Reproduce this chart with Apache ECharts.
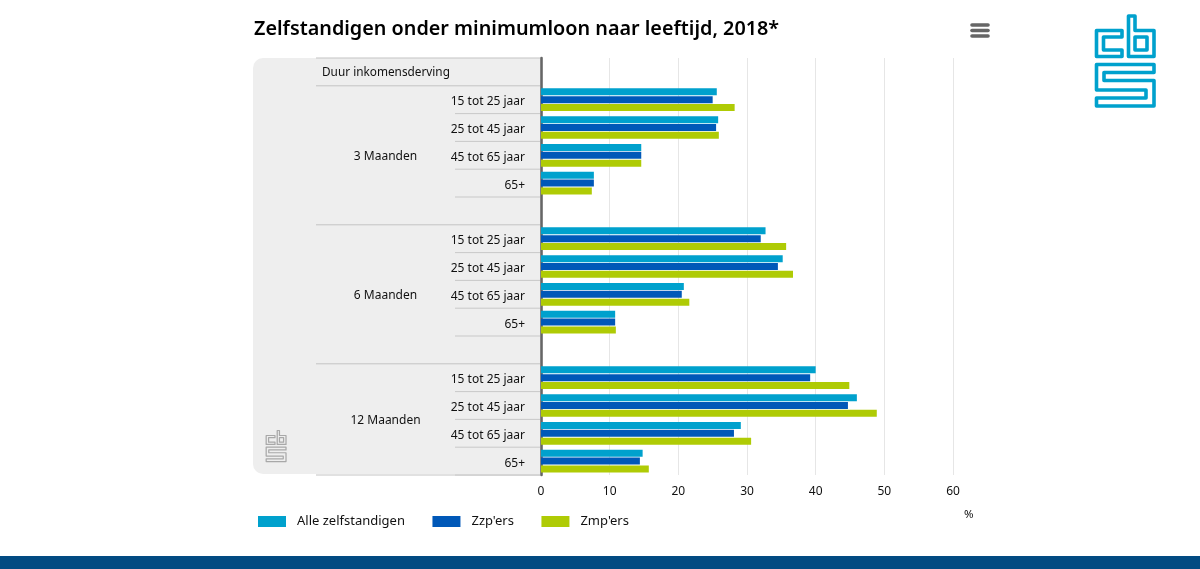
<!DOCTYPE html>
<html>
<head>
<meta charset="utf-8">
<title>Zelfstandigen onder minimumloon</title>
<script src="https://cdn.jsdelivr.net/npm/echarts@6/dist/echarts.min.js"></script>
<style>
html,body{margin:0;padding:0;background:#fff}
#main{width:1200px;height:569px}
</style>
</head>
<body>
<div id="main"></div>
<script>
// data. first row is the header row, blank rows between the groups
const ageLabels = ['', '15 tot 25 jaar', '25 tot 45 jaar', '45 tot 65 jaar', '65+', '',
  '15 tot 25 jaar', '25 tot 45 jaar', '45 tot 65 jaar', '65+', '',
  '15 tot 25 jaar', '25 tot 45 jaar', '45 tot 65 jaar', '65+'];
const alleZelfstandigen = [null, 25.6, 25.8, 14.6, 7.7, null, 32.7, 35.2, 20.8, 10.8, null, 40.0, 46.0, 29.1, 14.8];
const zzpers = [null, 25.0, 25.5, 14.6, 7.7, null, 32.0, 34.5, 20.5, 10.8, null, 39.2, 44.7, 28.1, 14.4];
const zmpers = [null, 28.2, 25.9, 14.6, 7.4, null, 35.7, 36.7, 21.6, 10.9, null, 44.9, 48.9, 30.6, 15.7];
const groupLabels = ['3 Maanden', '6 Maanden', '12 Maanden'];
const groupRows = [[1, 6], [6, 11], [11, 15]]; // from row, to row
const seriesNames = ['Alle zelfstandigen', "Zzp'ers", "Zmp'ers"];
const xTicks = [0, 10, 20, 30, 40, 50, 60];

const font = '"Noto Sans"';
const plotTop = 58, plotBottom = 475, panelRight = 540;
const rowH = (plotBottom - plotTop) / ageLabels.length;
const rowY = i => plotTop + i * rowH;

function line(x1, y1, x2, y2, color, w) {
  return {type: 'line', z: -1, shape: {x1, y1, x2, y2}, style: {stroke: color, lineWidth: w || 1}};
}

// cbs logo as outlines
const logoParts = [
  [[1122,30.5],[1096.5,30.5],[1096.5,56.5],[1122,56.5],[1122,50],[1103.5,50],[1103.5,37],[1122,37]],
  [[1128.5,16],[1135,16],[1135,30.5],[1154,30.5],[1154,56.5],[1128.5,56.5]],
  [[1135,37],[1147,37],[1147,50],[1135,50]],
  [[1096.5,64.5],[1154,64.5],[1154,72.5],[1104,72.5],[1104,80.5],[1154,80.5],[1154,106],[1096.5,106],[1096.5,98],[1146,98],[1146,90],[1096.5,90]]
];
function logo(color, x, y, scale) {
  return {
    type: 'group', x, y, scaleX: scale, scaleY: scale,
    children: logoParts.map(p => ({
      type: 'polygon', shape: {points: p},
      style: {fill: 'none', stroke: color, lineWidth: 3.6, lineJoin: 'round'}
    }))
  };
}

const graphics = [
  // grey panel behind the table
  {type: 'rect', z: -2, shape: {x: 253, y: plotTop, width: panelRight - 253, height: plotBottom - plotTop - 1, r: [10, 0, 0, 10]}, style: {fill: '#eeeeee'}},
  line(316, plotTop, panelRight, plotTop, '#c4c4c4', 1.2),
  line(316, rowY(1), panelRight, rowY(1), '#c4c4c4'),
  line(316, rowY(6), panelRight, rowY(6), '#c4c4c4'),
  line(316, rowY(11), panelRight, rowY(11), '#c4c4c4'),
  line(316, plotBottom, panelRight, plotBottom, '#c4c4c4', 1.2),
  {type: 'text', x: 322, y: rowY(0.5) + 1, style: {text: 'Duur inkomensderving', fill: '#111', font: '11.8px ' + font, textVerticalAlign: 'middle'}},
  {type: 'text', x: 964, y: 509, style: {text: '%', fill: '#111', font: '11.5px ' + font}},
  // menu button
  {type: 'line', shape: {x1: 972, y1: 25, x2: 988, y2: 25}, style: {stroke: '#666', lineWidth: 3.6, lineCap: 'round'}},
  {type: 'line', shape: {x1: 972, y1: 30.5, x2: 988, y2: 30.5}, style: {stroke: '#666', lineWidth: 3.6, lineCap: 'round'}},
  {type: 'line', shape: {x1: 972, y1: 36, x2: 988, y2: 36}, style: {stroke: '#666', lineWidth: 3.6, lineCap: 'round'}},
  logo('#00a1cd', 0, 0, 1),
  logo('#a8a8a8', 266 - 1096 * 0.345, 430.5 - 16 * 0.345, 0.345),
  // footer band
  {type: 'rect', shape: {x: 0, y: 556, width: 1200, height: 13}, style: {fill: '#024b82'}}
];

// lines under the age rows
ageLabels.forEach((a, i) => {
  if (a) graphics.push(line(455, rowY(i + 1), panelRight, rowY(i + 1), '#c8c8c8'));
});
// merged group cells
groupLabels.forEach((g, i) => {
  graphics.push({
    type: 'text', x: 385.5, y: (rowY(groupRows[i][0]) + rowY(groupRows[i][1])) / 2 + 1,
    style: {text: g, fill: '#111', font: '12px ' + font, textAlign: 'center', textVerticalAlign: 'middle'}
  });
});

const colors = ['#00a1cd', '#0058b8', '#afcb05'];
const chart = echarts.init(document.getElementById('main'));
chart.setOption({
  animation: false,
  backgroundColor: '#fff',
  color: colors,
  title: {
    text: 'Zelfstandigen onder minimumloon naar leeftijd, 2018*',
    left: 254, top: 19, padding: 0,
    textStyle: {fontFamily: font, fontSize: 19.8, fontWeight: 600, color: '#000'}
  },
  legend: {
    left: 258, top: 515, padding: 0,
    itemWidth: 28, itemHeight: 11, itemGap: 27.5, selectedMode: false,
    textStyle: {fontFamily: font, fontSize: 13, color: '#111', padding: [1, 0, 0, 6]},
    data: seriesNames.map(n => ({name: n, icon: 'rect'}))
  },
  grid: {left: 541, right: 247, top: plotTop, bottom: 569 - plotBottom},
  xAxis: {
    type: 'value', min: 0, max: 60, interval: 10,
    axisLine: {show: false}, axisTick: {show: false},
    axisLabel: {fontFamily: font, fontSize: 12, color: '#111', margin: 11,
      formatter: v => xTicks.includes(v) ? String(v) : ''},
    splitLine: {lineStyle: {color: '#e6e6e6', width: 1}}
  },
  yAxis: {
    type: 'category', inverse: true, data: ageLabels,
    axisLine: {lineStyle: {color: '#666', width: 2.6}},
    axisTick: {show: false},
    // small lineHeight with top align pushes the labels 2px down
    axisLabel: {fontFamily: font, fontSize: 12, color: '#111', margin: 16, interval: 0, verticalAlign: 'top', lineHeight: 4}
  },
  graphic: graphics,
  series: [alleZelfstandigen, zzpers, zmpers].map((d, i) => ({
    type: 'bar', name: seriesNames[i], data: d,
    barWidth: 7, barGap: '12%'
  }))
});
</script>
</body>
</html>
